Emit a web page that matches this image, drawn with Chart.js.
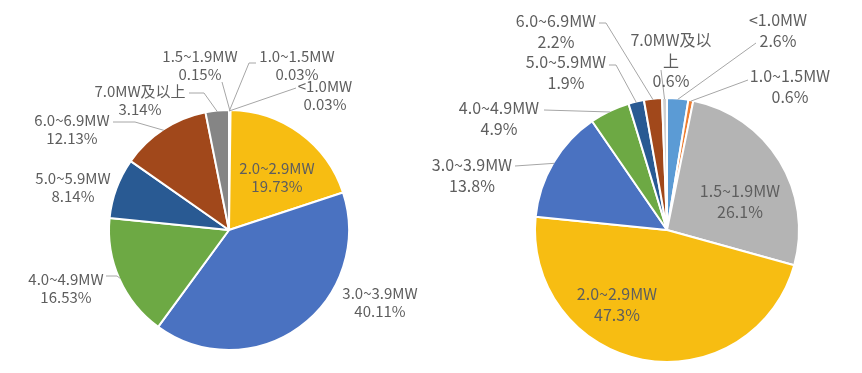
<!DOCTYPE html>
<html>
<head>
<meta charset="utf-8">
<script src="https://cdn.jsdelivr.net/npm/chart.js@4.4.1/dist/chart.umd.min.js"></script>
<style>
  html, body { margin: 0; padding: 0; background: #fff; }
  #wrap { position: relative; width: 862px; height: 373px; overflow: hidden; }
  .box { position: absolute; top: 0; width: 431px; height: 373px; }
</style>
</head>
<body>
<div id="wrap">
  <div class="box" style="left:0"><canvas id="pie_left" width="431" height="373"></canvas></div>
  <div class="box" style="left:431px"><canvas id="pie_right" width="431" height="373"></canvas></div>
</div>
<script>
// capacity classes (same order for both charts)
var classes = ['<1.0MW', '1.0~1.5MW', '1.5~1.9MW', '2.0~2.9MW', '3.0~3.9MW',
               '4.0~4.9MW', '5.0~5.9MW', '6.0~6.9MW', '7.0MW及以上'];
// share in %
var left_share  = [0.03, 0.03, 0.15, 19.73, 40.11, 16.53, 8.14, 12.13, 3.14];
var right_share = [2.6, 0.6, 26.1, 47.3, 13.8, 4.9, 1.9, 2.2, 0.6];
var left_text   = ['0.03%', '0.03%', '0.15%', '19.73%', '40.11%', '16.53%', '8.14%', '12.13%', '3.14%'];
var right_text  = ['2.6%', '0.6%', '26.1%', '47.3%', '13.8%', '4.9%', '1.9%', '2.2%', '0.6%'];

var left_colors  = ['#5B9BD5', '#ED7D31', '#A5A5A5', '#F7BD12', '#4A72C1', '#6DA944', '#295A93', '#A1481B', '#858585'];
var right_colors = ['#5B9BD5', '#ED7D31', '#B4B4B4', '#F7BD12', '#4A72C1', '#6DA944', '#295A93', '#A1481B', '#D0D0D0'];

// label placement: [x, y] of first text line, leader = points from label side (last point is the slice edge)
var left_layout = [
    { at: [325, 86], leader: [[296, 88]] },
    { at: [297, 56], leader: [[256, 63], [249, 63]] },
    { at: [200, 56], leader: [[222, 82]] },
    { at: [277, 168] },
    { at: [380, 293] },
    { at: [66, 279], leader: [[106, 276], [117, 276]] },
    { at: [73, 178] },
    { at: [72, 120], leader: [[113, 122], [135, 122]] },
    { at: [140, 91], leader: [[189, 93], [204, 93]] }
];
var right_layout = [
    { at: [347, 20], leader: [[325, 43]] },
    { at: [359, 76], leader: [[317, 80]] },
    { at: [309, 191] },
    { at: [186, 294] },
    { at: [41, 165], leader: [[84, 166]] },
    { at: [68, 108], leader: [[113, 110]] },
    { at: [135, 62], leader: [[178, 65], [185, 65]] },
    { at: [125, 21], leader: [[168, 23], [175, 23]] },
    { at: [240, 40], leader: [[230, 70]], wrap: 7 }
];

var sliceLabels = {
    id: 'sliceLabels',
    afterDatasetsDraw: function (chart) {
        var cfg = chart.options.plugins.sliceLabels;
        var ctx = chart.ctx;
        var arcs = chart.getDatasetMeta(0).data;
        ctx.save();
        ctx.font = cfg.fontSize + 'px "Noto Sans CJK SC", "Noto Sans", sans-serif';
        ctx.textAlign = 'center';
        ctx.textBaseline = 'middle';
        cfg.layout.forEach(function (item, i) {
            var arc = arcs[i];
            if (item.leader) {
                var p = arc.getProps(['x', 'y', 'startAngle', 'endAngle', 'outerRadius'], true);
                var mid = (p.startAngle + p.endAngle) / 2;
                var ex = p.x + Math.cos(mid) * (p.outerRadius - 1);
                var ey = p.y + Math.sin(mid) * (p.outerRadius - 1);
                ctx.strokeStyle = '#A6A6A6';
                ctx.lineWidth = 1;
                ctx.beginPath();
                ctx.moveTo(item.leader[0][0], item.leader[0][1]);
                for (var k = 1; k < item.leader.length; k++) ctx.lineTo(item.leader[k][0], item.leader[k][1]);
                ctx.lineTo(ex, ey);
                ctx.stroke();
            }
            var name = chart.data.labels[i];
            var lines = item.wrap ? [name.slice(0, item.wrap), name.slice(item.wrap)] : [name];
            lines.push(cfg.text[i]);
            ctx.fillStyle = '#5E5E5E';
            lines.forEach(function (t, j) {
                ctx.fillText(t, item.at[0], item.at[1] + j * cfg.lineHeight);
            });
        });
        ctx.restore();
    }
};

function display_pie_chart(chart_element, data, colors, text, layout, padding, fontSize, lineHeight) {
    const chart = document.getElementById(chart_element);
    new Chart(chart, {
        type: 'pie',
        data: {
            labels: classes,
            datasets: [
                {
                    data: data,
                    backgroundColor: colors,
                    borderColor: '#ffffff',
                    borderWidth: 2
                }
            ]
        },
        options: {
            responsive: false,
            animation: false,
            devicePixelRatio: 1,
            layout: { padding: padding },
            plugins: {
                legend: { display: false },
                tooltip: { enabled: false },
                sliceLabels: { layout: layout, text: text, fontSize: fontSize, lineHeight: lineHeight }
            }
        },
        plugins: [sliceLabels]
    });
}

display_pie_chart('pie_left', left_share, left_colors, left_text, left_layout,
    { left: 108, right: 81, top: 109, bottom: 22 }, 15, 18.5);
display_pie_chart('pie_right', right_share, right_colors, right_text, right_layout,
    { left: 103, right: 62, top: 97, bottom: 10 }, 16, 20.5);
</script>
</body>
</html>
